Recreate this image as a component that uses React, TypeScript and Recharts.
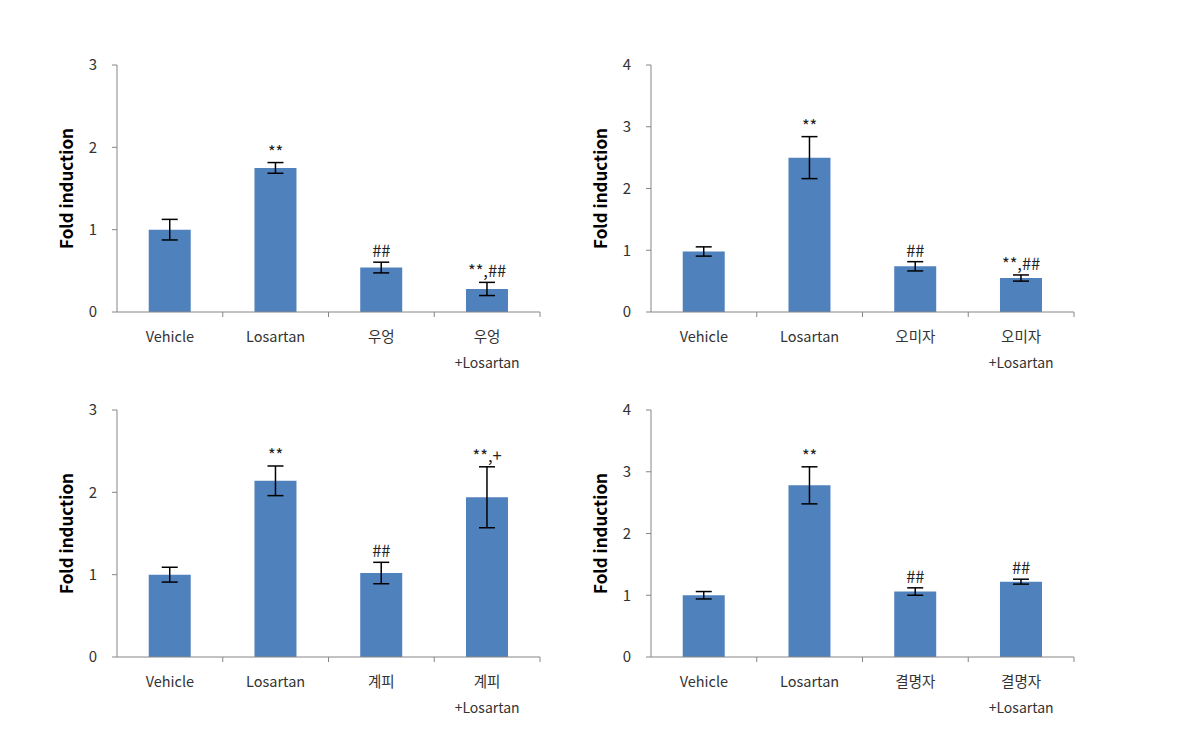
import React from "react";
import {
  ComposedChart,
  Bar,
  Line,
  XAxis,
  YAxis,
  ErrorBar,
  LabelList,
} from "recharts";

const herbs = ["우엉", "오미자", "계피", "결명자"];

const values1 = [1.0, 1.75, 0.54, 0.28];
const errors1 = [0.125, 0.065, 0.065, 0.08];
const marks1 = ["", "**", "##", "**,##"];

const values2 = [0.98, 2.5, 0.74, 0.55];
const errors2 = [0.075, 0.34, 0.075, 0.05];
const marks2 = ["", "**", "##", "**,##"];

const values3 = [1.0, 2.14, 1.02, 1.94];
const errors3 = [0.09, 0.18, 0.13, 0.37];
const marks3 = ["", "**", "##", "**,+"];

const values4 = [1.0, 2.78, 1.06, 1.22];
const errors4 = [0.06, 0.3, 0.06, 0.04];
const marks4 = ["", "**", "##", "##"];

const ticks3 = [0, 1, 2, 3];
const ticks4 = [0, 1, 2, 3, 4];

const FONT = "'Noto Sans CJK KR', 'Noto Sans', sans-serif";
const BAR = "#4F81BD";
const AXIS = "#868686";
const TEXT = "#333333";

const CHART_W = 520;
const CHART_H = 330;
const MARGIN = { top: 15, right: 20, bottom: 8, left: 17 };
const Y_W = 60;

function buildRows(herb: string, values: number[], errors: number[], marks: string[]) {
  const names = ["Vehicle", "Losartan", herb, herb + "\n+Losartan"];
  return names.map((name, i) => ({
    name,
    value: values[i],
    err: errors[i],
    top: values[i] + errors[i],
    mark: marks[i],
  }));
}

/* category label + tick marks on the category boundaries (Excel style) */
function CategoryTick(props: any) {
  const { x, y, payload, index } = props;
  const half = payload?.offset ?? (CHART_W - MARGIN.left - Y_W - MARGIN.right) / 8;
  const lines = String(payload.value).split("\n");
  return (
    <g>
      {index > 0 && (
        <line x1={x - half} y1={y} x2={x - half} y2={y + 5} stroke={AXIS} />
      )}
      {index === 3 && (
        <line x1={x + half} y1={y} x2={x + half} y2={y + 5} stroke={AXIS} />
      )}
      {lines.map((t, i) => (
        <text
          key={i}
          x={x}
          y={y + (i === 0 ? 30 : 56)}
          textAnchor="middle"
          fontSize={i === 0 ? 14.5 : 14}
          fill={TEXT}
          fontFamily={FONT}
        >
          {t}
        </text>
      ))}
    </g>
  );
}

function Panel({
  rows,
  ticks,
  left,
  top,
}: {
  rows: ReturnType<typeof buildRows>;
  ticks: number[];
  left: number;
  top: number;
}) {
  const max = ticks[ticks.length - 1];
  return (
    <div style={{ position: "absolute", left, top }}>
      <ComposedChart width={CHART_W} height={CHART_H} data={rows} margin={MARGIN} barCategoryGap="30%">
        <XAxis
          dataKey="name"
          height={60}
          axisLine={{ stroke: AXIS }}
          tickLine={false}
          tickSize={0}
          tickMargin={0}
          interval={0}
          tick={<CategoryTick />}
        />
        <YAxis
          width={Y_W}
          domain={[0, max]}
          ticks={ticks}
          axisLine={{ stroke: AXIS }}
          tickLine={{ stroke: AXIS }}
          tickSize={5}
          tickMargin={15}
          tick={{ fontSize: 15, fill: TEXT, fontFamily: FONT }}
          label={{
            value: "Fold induction",
            angle: -90,
            position: "insideLeft",
            offset: 10,
            style: { fontSize: 17, fontWeight: 700, fill: "#000", fontFamily: FONT, textAnchor: "middle" },
          }}
        />
        <Bar dataKey="value" fill={BAR} isAnimationActive={false}>
          <ErrorBar dataKey="err" width={8} stroke="#000" strokeWidth={1.5} />
        </Bar>
        <Line
          dataKey="top"
          stroke="none"
          dot={false}
          activeDot={false}
          legendType="none"
          isAnimationActive={false}
        >
          <LabelList
            dataKey="mark"
            position="top"
            offset={5}
            style={{ fontSize: 16.5, fill: "#222", fontFamily: FONT }}
          />
        </Line>
      </ComposedChart>
    </div>
  );
}

export default function App() {
  return (
    <div style={{ position: "absolute", left: 0, top: 0, width: 1193, height: 742, background: "#fff" }}>
      <Panel rows={buildRows(herbs[0], values1, errors1, marks1)} ticks={ticks3} left={40} top={50} />
      <Panel rows={buildRows(herbs[1], values2, errors2, marks2)} ticks={ticks4} left={574} top={50} />
      <Panel rows={buildRows(herbs[2], values3, errors3, marks3)} ticks={ticks3} left={40} top={395} />
      <Panel rows={buildRows(herbs[3], values4, errors4, marks4)} ticks={ticks4} left={574} top={395} />
    </div>
  );
}
